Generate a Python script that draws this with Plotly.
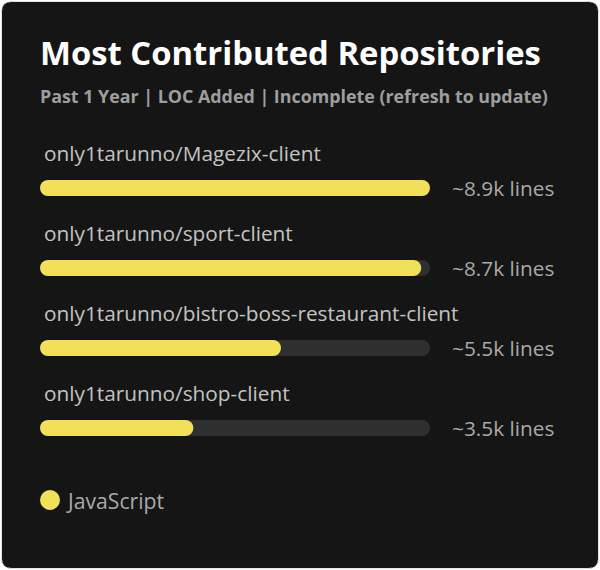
import plotly.graph_objects as go

repos = ["only1tarunno/Magezix-client", "only1tarunno/sport-client",
         "only1tarunno/bistro-boss-restaurant-client", "only1tarunno/shop-client"]
loc_k = [8.9, 8.7, 5.5, 3.5]
value_labels = ["~8.9k lines", "~8.7k lines", "~5.5k lines", "~3.5k lines"]
language = "JavaScript"
title = "Most Contributed Repositories"
subtitle = "Past 1 Year | LOC Added | Incomplete (refresh to update)"

W, H = 600, 570
BAR_COLOR = "#f1e05a"
TRACK_COLOR = "#2f2f2f"
CARD_BG = "#151515"
FONT = "Open Sans"

vmax = max(loc_k)
x0_px, xfull_px = 40, 430
scale = (xfull_px - x0_px) / vmax
xrange = [-x0_px / scale, (W - x0_px) / scale]
y_first, y_step = 188, 80
yrange = [(H - y_first) / y_step, -y_first / y_step]
bar_w = 16 / y_step

fig = go.Figure()
# track
fig.add_trace(go.Bar(y=repos, x=[vmax] * len(repos), base=0, orientation="h", width=bar_w,
                     marker=dict(color=TRACK_COLOR, cornerradius=8, line=dict(width=0)),
                     hoverinfo="skip", showlegend=False))
# values
fig.add_trace(go.Bar(y=repos, x=loc_k, base=0, orientation="h", width=bar_w,
                     marker=dict(color=BAR_COLOR, cornerradius=8, line=dict(width=0)),
                     showlegend=False))

annotations = []
for r, lab in zip(repos, value_labels):
    annotations.append(dict(x=0, y=r, xref="x", yref="y", text=r, showarrow=False,
                            xanchor="left", yanchor="middle", xshift=2, yshift=35,
                            font=dict(family=FONT, size=20.8, color="#c3c3c3")))
    annotations.append(dict(x=vmax, y=r, xref="x", yref="y", text=lab, showarrow=False,
                            xanchor="left", yanchor="middle", xshift=20, yshift=0,
                            font=dict(family=FONT, size=20.8, color="#a9a9a9")))
annotations.append(dict(x=38 / W, y=1 - 53 / H, xref="paper", yref="paper", text="<b>" + title + "</b>",
                        showarrow=False, xanchor="left", yanchor="middle",
                        font=dict(family=FONT, size=32.8, color="#ffffff")))
annotations.append(dict(x=38 / W, y=1 - 96 / H, xref="paper", yref="paper", text="<b>" + subtitle + "</b>",
                        showarrow=False, xanchor="left", yanchor="middle",
                        font=dict(family=FONT, size=17.85, color="#9e9e9e")))
annotations.append(dict(x=64 / W, y=1 - 500 / H, xref="paper", yref="paper", text=language,
                        showarrow=False, xanchor="left", yanchor="middle",
                        font=dict(family=FONT, size=21.2, color="#a9a9a9")))

def px(x, y):
    return f"{x / W:.5f},{1 - y / H:.5f}"

l, t, r, b, rad = 1.5, 1.5, 598.5, 568.5, 10
path = (f"M {px(l + rad, t)} L {px(r - rad, t)} Q {px(r, t)} {px(r, t + rad)} "
        f"L {px(r, b - rad)} Q {px(r, b)} {px(r - rad, b)} L {px(l + rad, b)} "
        f"Q {px(l, b)} {px(l, b - rad)} L {px(l, t + rad)} Q {px(l, t)} {px(l + rad, t)} Z")
shapes = [
    dict(type="path", path=path, xref="paper", yref="paper", fillcolor=CARD_BG,
         line=dict(color="#e4e2e2", width=1), layer="below"),
    dict(type="circle", xref="paper", yref="paper", x0=40 / W, x1=60 / W,
         y0=1 - 510 / H, y1=1 - 490 / H, fillcolor=BAR_COLOR, line=dict(width=0)),
]

fig.update_layout(
    width=W, height=H, margin=dict(l=0, r=0, t=0, b=0),
    paper_bgcolor="#ffffff", plot_bgcolor="rgba(0,0,0,0)",
    barmode="overlay", showlegend=False,
    xaxis=dict(range=xrange, visible=False, domain=[0, 1], fixedrange=True),
    yaxis=dict(range=yrange, visible=False, domain=[0, 1], type="category", fixedrange=True),
    annotations=annotations, shapes=shapes,
)
fig.write_html("out.html")
